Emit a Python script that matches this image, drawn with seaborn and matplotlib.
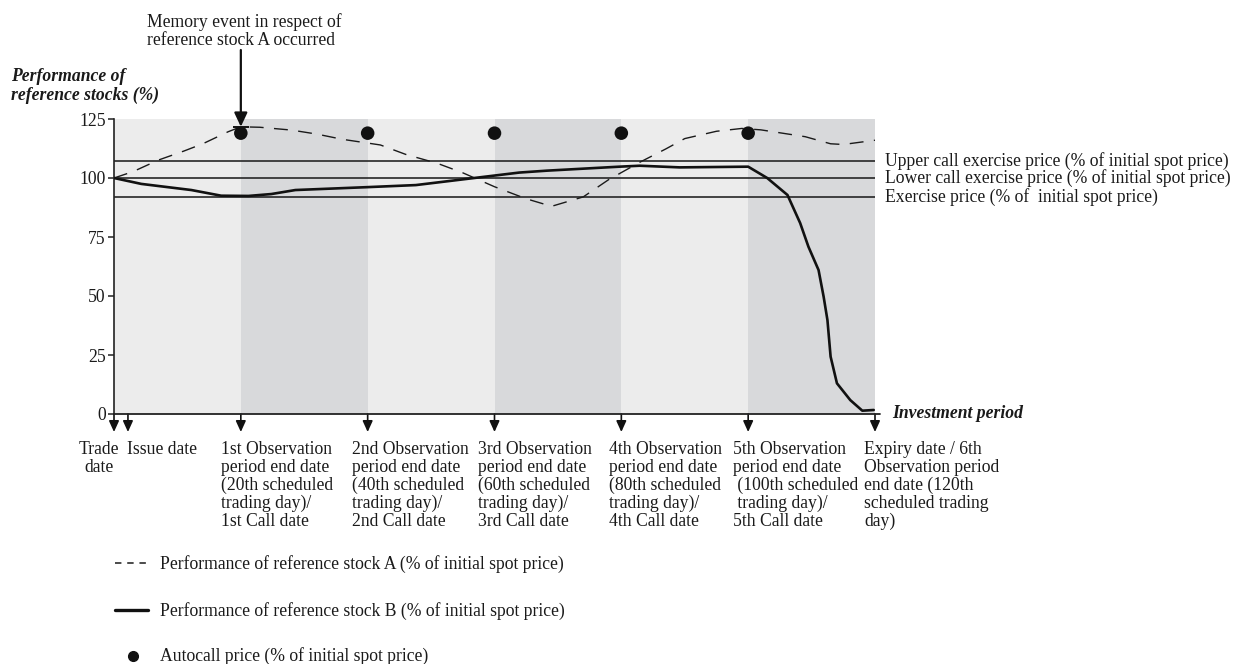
import matplotlib
matplotlib.use("Agg")
import matplotlib.pyplot as plt
from matplotlib.lines import Line2D
import matplotlib.transforms as mtransforms
import seaborn as sns
import pandas as pd

# ---- schedule (scheduled trading days) ----
period_bounds = [0, 20, 40, 60, 80, 100, 120]
observation_days = [20, 40, 60, 80, 100]
autocall_price = [119, 119, 119, 119, 119]

# ---- strike levels (% of initial spot price) ----
barrier_values = [107, 100, 92]
barrier_labels = [
    "Upper call exercise price (% of initial spot price)",
    "Lower call exercise price (% of initial spot price)",
    "Exercise price (% of  initial spot price)",
]

# ---- reference stock A (% of initial spot price) ----
stock_a_days = [0, 3, 7, 11, 14, 18, 20, 23, 28, 32, 36, 42, 46, 51, 55, 60,
                65, 69, 74, 78, 83, 87, 90, 95, 99, 102, 109, 113, 115, 120]
stock_a_perf = [100, 102.7, 107.6, 111.4, 114.5, 119.6, 121.7, 121.5, 120.3,
                118.6, 116.4, 114, 110, 106.2, 102.2, 96.3, 91.2, 88, 92, 99.3,
                106.8, 112.3, 116.7, 119.8, 121, 120.4, 117.5, 114.5, 114.2, 116]

# ---- reference stock B (% of initial spot price) ----
stock_b_days = [0, 4.3, 12.2, 16.9, 21.2, 24.8, 28.6, 39.7, 47.6, 56.5, 63.9,
                68.2, 79.7, 82.9, 89.2, 100, 103, 106.2, 108.2, 109.5, 111.1,
                111.9, 112.5, 113, 114, 116.1, 118, 119.8]
stock_b_perf = [100, 97.5, 94.9, 92.5, 92.4, 93.2, 94.9, 96.1, 97, 99.9, 102.3,
                103.1, 104.8, 105.2, 104.5, 104.8, 100, 92.8, 80.9, 70.9, 61,
                49.7, 39.8, 24.3, 13, 5.9, 1.4, 1.7]

y_ticks = [0, 25, 50, 75, 100, 125]
memory_event_day = 20
memory_event_level = 121.7

# ---- dates marked along the investment period ----
event_days = [0, 2.2, 20, 40, 60, 80, 100, 120]
event_labels = [
    "Trade\ndate",
    "Issue date",
    "1st Observation\nperiod end date\n(20th scheduled\ntrading day)/\n1st Call date",
    "2nd Observation\nperiod end date\n(40th scheduled\ntrading day)/\n2nd Call date",
    "3rd Observation\nperiod end date\n(60th scheduled\ntrading day)/\n3rd Call date",
    "4th Observation\nperiod end date\n(80th scheduled\ntrading day)/\n4th Call date",
    "5th Observation\nperiod end date\n (100th scheduled\n trading day)/\n5th Call date",
    "Expiry date / 6th\nObservation period\nend date (120th\nscheduled trading\nday)",
]
# horizontal offset (px) of each label from its arrow, and alignment
label_dx = [-15, -1, -20, -16, -17, -12, -15, -11]
label_ha = ["center", "left", "left", "left", "left", "left", "left", "left"]

legend_labels = [
    "Performance of reference stock A (% of initial spot price)",
    "Performance of reference stock B (% of initial spot price)",
    "Autocall price (% of initial spot price)",
]

sns.set_theme(style="white")
plt.rcParams["font.family"] = ["Liberation Serif", "DejaVu Serif"]

W, H = 1235, 664
DPI = 100
FS = 12.7
fig = plt.figure(figsize=(W / DPI, H / DPI), dpi=DPI)
fig.patch.set_facecolor("white")


def fx(px):
    return px / W


def fy(py):
    return 1 - py / H


ax = fig.add_axes([fx(114), fy(414), fx(875) - fx(114), fy(119) - fy(414)])
ax.set_facecolor("white")
ax.set_xlim(0, 120)
ax.set_ylim(0, 125)

# alternating observation-period bands
band_colors = ["#ececec", "#d8d9db"]
for i in range(len(period_bounds) - 1):
    ax.axvspan(period_bounds[i], period_bounds[i + 1], ymin=0, ymax=1,
               color=band_colors[i % 2], lw=0, zorder=0)

# strike levels
for v in barrier_values:
    ax.axhline(v, color="#262626", lw=1.2, zorder=2)
for v, lab in zip(barrier_values, barrier_labels):
    ax.text(1.013, v, lab, transform=ax.get_yaxis_transform(), ha="left",
            va="center", fontsize=FS, color="#1a1a1a", clip_on=False)

# performance paths
df_a = pd.DataFrame({"day": stock_a_days, "perf": stock_a_perf})
df_b = pd.DataFrame({"day": stock_b_days, "perf": stock_b_perf})
sns.lineplot(data=df_a, x="day", y="perf", ax=ax, color="#1a1a1a", lw=1.0,
             zorder=3)
ax.lines[-1].set_dashes([10, 7.5])
sns.lineplot(data=df_b, x="day", y="perf", ax=ax, color="#111111", lw=1.9,
             zorder=4)

# autocall levels
df_c = pd.DataFrame({"day": observation_days, "level": autocall_price})
sns.scatterplot(data=df_c, x="day", y="level", ax=ax, color="#111111", s=95,
                edgecolor="none", zorder=5)

# axes styling
for s in ["top", "right", "bottom"]:
    ax.spines[s].set_visible(False)
ax.spines["left"].set_color("#222222")
ax.spines["left"].set_linewidth(1.2)
ax.set_yticks(y_ticks)
ax.set_yticklabels([str(t) for t in y_ticks], fontsize=FS, color="#1a1a1a")
ax.tick_params(axis="y", left=True, length=4, width=1.1, color="#222222",
               pad=2)
ax.set_xticks([])
ax.set_xlabel("")
ax.set_ylabel("")
# time axis drawn slightly past the last date
ax.plot([0, 1.007], [0, 0], transform=ax.transAxes, color="#222222", lw=1.3,
        clip_on=False, zorder=6)

# downward date arrows and their labels
arrow_kw = dict(arrowstyle="-|>,head_length=0.55,head_width=0.25",
                color="#111111", lw=1.2, shrinkA=0, shrinkB=0,
                mutation_scale=12)
bx = ax.get_xaxis_transform()
below = bx + mtransforms.ScaledTranslation(0, -18 / DPI, fig.dpi_scale_trans)
for d, lab, dx, ha in zip(event_days, event_labels, label_dx, label_ha):
    ax.annotate("", xy=(d, 0), xycoords=below, xytext=(d, 0),
                textcoords=bx, arrowprops=arrow_kw, annotation_clip=False)
    trans = bx + mtransforms.ScaledTranslation(dx / DPI, -27 / DPI,
                                               fig.dpi_scale_trans)
    ax.text(d, 0, lab, transform=trans, ha=ha, va="top", fontsize=FS,
            linespacing=1.07, multialignment=ha, color="#1a1a1a")

ax.text(1.022, 0, "Investment period", transform=ax.transAxes, ha="left",
        va="center", fontsize=FS, fontweight="bold", fontstyle="italic",
        color="#1a1a1a")

# memory event annotation
ax.annotate("", xy=(memory_event_day, memory_event_level), xycoords="data",
            xytext=(memory_event_day, fy(50)),
            textcoords=("data", "figure fraction"),
            arrowprops=dict(arrowstyle="-|>,head_length=0.6,head_width=0.28",
                            color="#111111", lw=1.6, shrinkA=0, shrinkB=0,
                            mutation_scale=14))
ax.plot([memory_event_day], [memory_event_level], marker="_", ms=11,
        mew=1.4, color="#111111", zorder=6)
fig.text(fx(147), fy(31), "Memory event in respect of\nreference stock A occurred",
         ha="left", va="center", fontsize=FS, linespacing=1.1,
         color="#1a1a1a")

fig.text(fx(11), fy(86), "Performance of\nreference stocks (%)", ha="left",
         va="center", fontsize=FS, fontweight="bold", fontstyle="italic",
         linespacing=1.06, color="#1a1a1a")

# legend
fig.add_artist(Line2D([fx(115), fx(148)], [fy(563), fy(563)], color="#1a1a1a",
                      lw=1.1, dashes=[4.2, 3.8]))
fig.add_artist(Line2D([fx(115), fx(148)], [fy(610), fy(610)], color="#111111",
                      lw=2.4))
fig.add_artist(Line2D([fx(133)], [fy(656)], color="#111111", marker="o",
                      ms=7, lw=0))
for py, lab in zip([564, 611, 656], legend_labels):
    fig.text(fx(160), fy(py), lab, ha="left", va="center", fontsize=FS,
             color="#1a1a1a")

fig.savefig("out.png", dpi=DPI, facecolor="white")
